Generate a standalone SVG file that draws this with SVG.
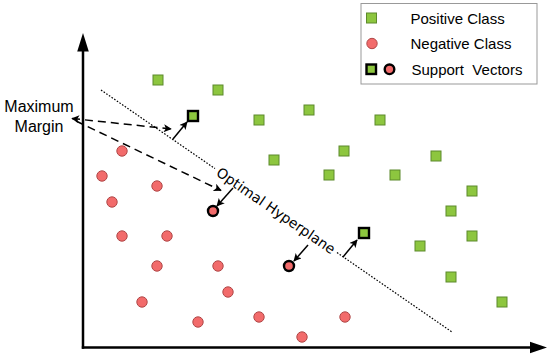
<svg xmlns="http://www.w3.org/2000/svg" width="550" height="358" viewBox="0 0 550 358">
<style>
.pos{fill:#8dc63f;stroke:#5d8a2c;stroke-width:1}
.neg{fill:#f26b6b;stroke:#b04848;stroke-width:1}
.sv{stroke:#000;stroke-width:2.4}
.axis{stroke:#000;stroke-width:2.5;fill:none}
.hyp{stroke:#000;stroke-width:1.2;stroke-dasharray:1.6 1.6;fill:none}
.dash{stroke:#000;stroke-width:1.5;stroke-dasharray:8 5;fill:none}
.arr{stroke:#000;stroke-width:1.5;fill:none}
.lbl{font-family:"Liberation Sans",Arial,sans-serif;fill:#000}
.hl{font-family:"DejaVu Sans",Verdana,sans-serif;font-size:14px;fill:#000}
</style>
<defs>
<marker id="ah" viewBox="0 0 10 10" refX="9" refY="5" markerWidth="9" markerHeight="8" markerUnits="userSpaceOnUse" orient="auto-start-reverse">
<path d="M0,0 L10,5 L0,10 L2.5,5 z" fill="#000"/>
</marker>
</defs>
<rect width="550" height="358" fill="#fff"/>

<g id="axes">
<path class="axis" d="M83,348.7 L83,50"/>
<path class="axis" d="M81.8,347.5 L531,347.5"/>
<path d="M83,33 L77.2,51.5 L88.8,51.5 z" fill="#000"/>
<path d="M547,347.5 L530,341.7 L530,353.3 z" fill="#000"/>
</g>

<g id="hyperplane">
<path class="hyp" d="M101,90 L215,168.6"/>
<path class="hyp" d="M337,252.6 L452,332"/>
<text class="hl" transform="translate(276,210.6) rotate(34.6)" x="0" y="5" text-anchor="middle">Optimal Hyperplane</text>
</g>

<g id="connectors">
<path class="dash" d="M72,118.5 L171,129" marker-start="url(#ah)" marker-end="url(#ah)"/>
<path class="dash" d="M76,121 L221,190.5" marker-end="url(#ah)"/>
<path class="arr" d="M173,139 L187,122" marker-end="url(#ah)"/>
<path class="arr" d="M233,188 L217,206" marker-end="url(#ah)"/>
<path class="arr" d="M308,245 L294,261" marker-end="url(#ah)"/>
<path class="arr" d="M343,257 L357,240" marker-end="url(#ah)"/>
</g>

<g id="positive-class">
<rect class="pos" x="153" y="75" width="10" height="10"/>
<rect class="pos" x="213" y="85" width="10" height="10"/>
<rect class="pos" x="254" y="115" width="10" height="10"/>
<rect class="pos" x="304" y="105" width="10" height="10"/>
<rect class="pos" x="375" y="115" width="10" height="10"/>
<rect class="pos" x="339" y="146" width="10" height="10"/>
<rect class="pos" x="269" y="155" width="10" height="10"/>
<rect class="pos" x="431" y="151" width="10" height="10"/>
<rect class="pos" x="324" y="170" width="10" height="10"/>
<rect class="pos" x="390" y="170" width="10" height="10"/>
<rect class="pos" x="467" y="186" width="10" height="10"/>
<rect class="pos" x="446" y="206" width="10" height="10"/>
<rect class="pos" x="467" y="231" width="10" height="10"/>
<rect class="pos" x="415" y="241" width="10" height="10"/>
<rect class="pos" x="446" y="272" width="10" height="10"/>
<rect class="pos" x="497" y="297" width="10" height="10"/>
</g>
<g id="positive-support-vectors">
<rect class="pos sv" x="188" y="111" width="10" height="10"/>
<rect class="pos sv" x="359" y="228" width="10" height="10"/>
</g>

<g id="negative-class">
<circle class="neg" cx="122" cy="151" r="5.2"/>
<circle class="neg" cx="102" cy="176" r="5.2"/>
<circle class="neg" cx="157" cy="186" r="5.2"/>
<circle class="neg" cx="112" cy="202" r="5.2"/>
<circle class="neg" cx="122" cy="236" r="5.2"/>
<circle class="neg" cx="167" cy="236" r="5.2"/>
<circle class="neg" cx="157" cy="266" r="5.2"/>
<circle class="neg" cx="218" cy="266" r="5.2"/>
<circle class="neg" cx="228" cy="292" r="5.2"/>
<circle class="neg" cx="142" cy="302" r="5.2"/>
<circle class="neg" cx="198" cy="322" r="5.2"/>
<circle class="neg" cx="259" cy="317" r="5.2"/>
<circle class="neg" cx="302" cy="337" r="5.2"/>
<circle class="neg" cx="345" cy="317" r="5.2"/>
</g>
<g id="negative-support-vectors">
<circle class="neg sv" cx="213" cy="211" r="5"/>
<circle class="neg sv" cx="289" cy="266" r="5"/>
</g>

<g id="maximum-margin-label">
<text class="lbl" font-size="16" x="39" y="111.5" text-anchor="middle">Maximum</text>
<text class="lbl" font-size="16" x="39" y="131.5" text-anchor="middle">Margin</text>
</g>

<g id="legend">
<rect x="361" y="3.5" width="176" height="80.5" fill="#fff" stroke="#999" stroke-width="1"/>
<rect class="pos" x="366.5" y="13" width="10" height="10"/>
<circle class="neg" cx="372" cy="43.5" r="5.2"/>
<rect class="pos sv" x="366.5" y="64.5" width="9.5" height="9.5"/>
<circle class="neg sv" cx="389.5" cy="69.3" r="4.8"/>
<text class="lbl" font-size="15" x="410.5" y="23.5">Positive Class</text>
<text class="lbl" font-size="15" x="410.5" y="48.5">Negative Class</text>
<text class="lbl" font-size="15" x="411.5" y="74.5" style="white-space:pre">Support  Vectors</text>
</g>
</svg>
